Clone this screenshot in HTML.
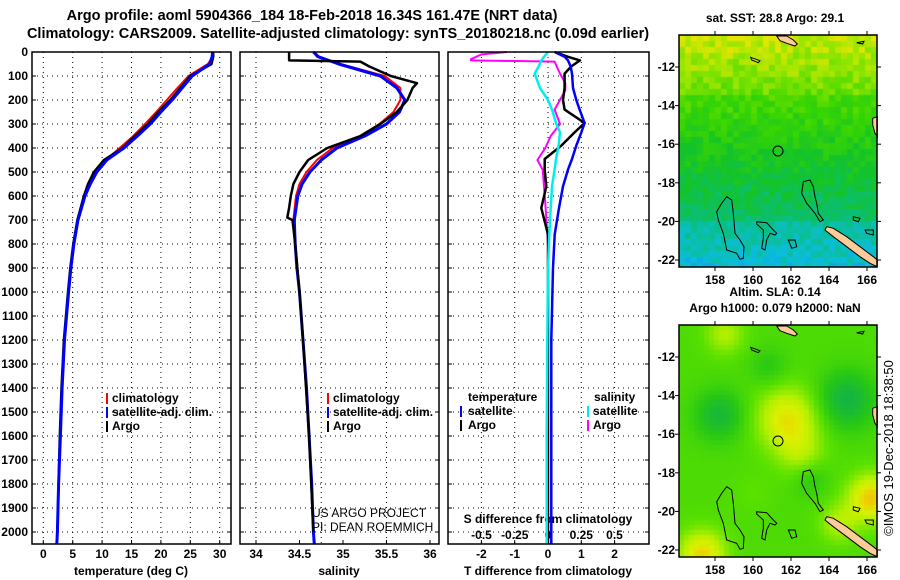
<!DOCTYPE html>
<html><head><meta charset="utf-8">
<style>
html,body{margin:0;padding:0;background:#fff;}
#wrap{position:relative;width:900px;height:580px;overflow:hidden;font-family:"Liberation Sans",sans-serif;}
canvas{position:absolute;}
svg{position:absolute;left:0;top:0;}
text{font-family:"Liberation Sans",sans-serif;}
</style></head>
<body>
<div id="wrap">
<canvas id="map1" width="198" height="232" style="left:679px;top:35px"></canvas>
<canvas id="map2" width="198" height="232" style="left:679px;top:325px"></canvas>
<svg id="fig" width="900" height="580" xmlns="http://www.w3.org/2000/svg"></svg>
</div>
<script>
// ---- data ----
const depthsT = [0,20,50,100,150,200,250,300,350,400,450,500,550,600,700,800,900,1000,1200,1400,1600,1800,2000,2050];
const tempSat  = [28.8,28.7,28.3,25.3,23.6,21.9,20.0,18.2,16.0,13.7,10.8,9.1,8.0,7.1,5.9,5.2,4.7,4.3,3.6,3.2,2.9,2.6,2.4,2.3];
const tempClim = [28.9,28.8,28.0,24.7,22.8,21.0,19.2,17.3,15.3,13.0,10.6,9.0,8.0,7.1,5.9,5.2,4.7,4.3,3.6,3.2,2.9,2.6,2.4,2.3];
const tempArgo = [28.9,28.9,28.6,25.0,23.3,21.6,19.6,17.8,15.6,13.5,10.3,8.6,7.6,6.9,5.8,5.1,4.6,4.2,3.5,3.1,2.8,2.6,2.4,2.35];
const salSat   = [34.66,34.72,34.95,35.43,35.62,35.71,35.65,35.5,35.25,34.93,34.75,34.62,34.53,34.48,34.44,34.45,34.47,34.5,34.54,34.58,34.61,34.64,34.66,34.67];
const salClim  = [34.66,34.7,34.97,35.48,35.66,35.66,35.58,35.42,35.2,34.88,34.7,34.58,34.5,34.46,34.43,34.45,34.47,34.5,34.54,34.58,34.61,34.64,34.66,34.67];
const depthsSA = [0,35,40,60,100,130,150,200,250,300,350,400,450,500,550,600,650,690,700,800,1000,1200,1600,2000];
const salArgo  = [34.38,34.38,35.2,35.3,35.55,35.85,35.8,35.74,35.62,35.43,35.2,34.82,34.6,34.5,34.43,34.4,34.38,34.36,34.42,34.45,34.5,34.54,34.61,34.66];
const depthsD = [0,20,35,60,90,150,200,240,296,335,390,446,490,560,650,760,900,1200,1600,2050];
const tDiffSat  = [0.2,0.5,0.6,0.68,0.72,0.75,0.85,0.95,1.1,1.0,0.85,0.72,0.6,0.45,0.33,0.2,0.15,0.1,0.1,0.1];
const tDiffArgo = [0.2,0.6,0.96,0.7,0.5,0.5,0.45,0.5,1.1,0.8,0.4,-0.1,-0.1,-0.05,-0.2,0.0,0.0,0.0,0.0,0.0];
const sDiffSat  = [0.0,-0.03,-0.05,-0.07,-0.1,-0.06,0.0,0.03,0.06,0.09,0.08,0.06,0.05,0.03,0.02,0.01,0.0,-0.005,-0.01,-0.01];
const depthsSD = [0,10,30,35,40,90,130,160,240,300,350,400,450,490,630,800,1200,2050];
const sDiffArgo = [-0.31,-0.5,-0.58,-0.58,0.05,0.09,0.13,0.13,0.05,0.09,0.02,-0.02,-0.08,-0.04,-0.02,0.0,0.0,0.0];
const depthTicks = [0,100,200,300,400,500,600,700,800,900,1000,1100,1200,1300,1400,1500,1600,1700,1800,1900,2000];
const tempTicks = [0,5,10,15,20,25,30];
const salTicks = [34,34.5,35,35.5,36];
const tdTicks = [-2,-1,0,1,2];
const sdTicks = [-0.5,-0.25,0,0.25,0.5];
const lonTicks = [158,160,162,164,166];
const latTicks = [-12,-14,-16,-18,-20,-22];

const NS='http://www.w3.org/2000/svg';
const svg=document.getElementById('fig');
function el(tag,attrs,parent){const e=document.createElementNS(NS,tag);for(const k in attrs)e.setAttribute(k,attrs[k]);(parent||svg).appendChild(e);return e;}
function txt(x,y,s,opts,parent){const t=el('text',Object.assign({x:x,y:y,'font-size':12,'font-weight':'bold','text-anchor':'middle',fill:'#000'},opts||{}),parent);t.textContent=s;return t;}

const TOP=52, BOT=544;
const yD=d=>TOP+d*0.24;
const xT=v=>43.3+v*5.88;
const xS=v=>256+(v-34)*87;
const xTD=v=>548+v*33.3;
const xSD=v=>548+v*133;

function panel(x0,x1,name){
  const g=el('g',{});
  
  
  return g;
}
function frame(g,x0,x1){el('rect',{x:x0,y:TOP,width:x1-x0,height:BOT-TOP,fill:'none',stroke:'#000','stroke-width':1.5},g);}
function hgrid(g,x0,x1){depthTicks.forEach(d=>{if(d>0)el('line',{x1:x0,x2:x1,y1:yD(d),y2:yD(d),stroke:'#000','stroke-width':1,'stroke-dasharray':'1,4'},g);el('line',{x1:x0,x2:x0+4,y1:yD(d),y2:yD(d),stroke:'#000'},g);el('line',{x1:x1-4,x2:x1,y1:yD(d),y2:yD(d),stroke:'#000'},g);});}
function vgrid(g,xs){xs.forEach(x=>el('line',{x1:x,x2:x,y1:TOP,y2:BOT,stroke:'#000','stroke-width':1,'stroke-dasharray':'1,4'},g));}
function line(g,xs,ds,fx,color,w,name){
  let p='';xs.forEach((v,i)=>{p+=(i?'L':'M')+fx(v).toFixed(1)+','+yD(ds[i]).toFixed(1);});
  const l=el('path',{d:p,fill:'none',stroke:color,'stroke-width':w,'stroke-linejoin':'round'},g);
  
  
}

// titles
const t1=txt(312,20,'Argo profile: aoml 5904366_184 18-Feb-2018 16.34S 161.47E (NRT data)',{'font-size':14.5});


const t2=txt(338,38,'Climatology: CARS2009. Satellite-adjusted climatology: synTS_20180218.nc (0.09d earlier)',{'font-size':14.5});



// y axis labels
const ya=el('g',{});


depthTicks.forEach(d=>txt(28,yD(d)+4,String(d),{'text-anchor':'end'},ya));

// panel 1 temperature
const p1=panel(32,231,'temperature-panel');
vgrid(p1,tempTicks.map(xT));hgrid(p1,32,231);
tempTicks.forEach(v=>{txt(xT(v),558,String(v),{},p1);el('line',{x1:xT(v),x2:xT(v),y1:BOT,y2:BOT-4,stroke:'#000'},p1);});
txt(131,575,'temperature (deg C)',{},p1);
line(p1,tempClim,depthsT,xT,'#f00',2,'temp-climatology-line');
line(p1,tempArgo,depthsT.slice(0,23),xT,'#000',2.5,'temp-argo-line');
line(p1,tempSat,depthsT,xT,'#00f',3,'temp-satellite-line');
frame(p1,32,231);
[['climatology','#f00',402],['satellite-adj. clim.','#00f',416],['Argo','#000',430]].forEach(a=>{el('rect',{x:106,y:a[2]-9,width:2,height:11,fill:a[1]},p1);txt(112,a[2],a[0],{'text-anchor':'start'},p1);});

// panel 2 salinity
const p2=panel(240,439,'salinity-panel');
vgrid(p2,[34,34.75,35.5].map(xS));hgrid(p2,240,439);
salTicks.forEach(v=>{txt(xS(v),558,String(v),{},p2);el('line',{x1:xS(v),x2:xS(v),y1:BOT,y2:BOT-4,stroke:'#000'},p2);});
txt(339,575,'salinity',{},p2);
line(p2,salClim,depthsT,xS,'#f00',2,'sal-climatology-line');
line(p2,salSat,depthsT,xS,'#00f',3,'sal-satellite-line');
line(p2,salArgo,depthsSA,xS,'#000',2.5,'sal-argo-line');
frame(p2,240,439);
[['climatology','#f00',402],['satellite-adj. clim.','#00f',416],['Argo','#000',430]].forEach(a=>{el('rect',{x:327,y:a[2]-9,width:2,height:11,fill:a[1]},p2);txt(333,a[2],a[0],{'text-anchor':'start'},p2);});
txt(312,517,'US ARGO PROJECT',{'font-weight':'normal','text-anchor':'start','font-size':12},p2);
txt(312,531,'PI: DEAN ROEMMICH',{'font-weight':'normal','text-anchor':'start','font-size':12},p2);

// panel 3 diffs
const p3=panel(448,649,'difference-panel');
vgrid(p3,tdTicks.map(xTD));hgrid(p3,448,649);
tdTicks.forEach(v=>{txt(xTD(v),558,String(v),{},p3);el('line',{x1:xTD(v),x2:xTD(v),y1:BOT,y2:BOT-4,stroke:'#000'},p3);});
sdTicks.forEach(v=>txt(xSD(v),539,String(v),{},p3));
txt(548,523,'S difference from climatology',{},p3);
txt(548,575,'T difference from climatology',{},p3);
line(p3,sDiffArgo,depthsSD,xSD,'#f0f',2,'sal-argo-diff-line');
line(p3,tDiffArgo,depthsD,xTD,'#000',2.5,'temp-argo-diff-line');
line(p3,sDiffSat,depthsD,xSD,'#0ee',2.5,'sal-satellite-diff-line');
line(p3,tDiffSat,depthsD,xTD,'#00f',2.5,'temp-satellite-diff-line');
frame(p3,448,649);
txt(468,401,'temperature',{'text-anchor':'start'},p3);
txt(594,401,'salinity',{'text-anchor':'start'},p3);
[['satellite','#00f','#0ee',415],['Argo','#000','#f0f',429]].forEach(a=>{
  el('rect',{x:460,y:a[3]-9,width:2,height:11,fill:a[1]},p3);txt(468,a[3],a[0],{'text-anchor':'start'},p3);
  el('rect',{x:587,y:a[3]-9,width:2,height:11,fill:a[2]},p3);txt(593,a[3],a[0],{'text-anchor':'start'},p3);
});

// ---- maps ----
const MX0=679,MX1=877;
const lonX=l=>715+(l-158)*19;
const latY=(l,top)=>top+32+(-12-l)*19.3;
function hsh(i,j){let h=(i*374761393+j*668265263)^0x5bd1e995;h=(h^(h>>>13))*1274126177;h=h^(h>>>16);return ((h>>>0)%1000)/1000;}
function lerpC(stops,t){t=Math.max(0,Math.min(1,t));for(let k=0;k<stops.length-1;k++){if(t<=stops[k+1][0]){const a=stops[k],b=stops[k+1];const f=(t-a[0])/(b[0]-a[0]);return [0,1,2].map(c=>Math.round(a[1][c]+(b[1][c]-a[1][c])*f));}}return stops[stops.length-1][1];}
// SST map
(function(){const c=document.getElementById('map1').getContext('2d');const s=6;
const pal=[[0,[20,110,240]],[0.2,[10,190,220]],[0.38,[10,190,120]],[0.55,[20,195,40]],[0.72,[60,215,0]],[0.88,[150,230,0]],[1,[230,230,0]]];
for(let j=0;j*s<232;j++)for(let i=0;i*s<198;i++){const yy=j*s/232;let v=0.9-yy*0.62+(hsh(i,j)-0.5)*0.14;if(yy<0.25)v+=0.05;if(yy>0.8)v-=0.08;const col=lerpC(pal,v);c.fillStyle='rgb('+col+')';c.fillRect(i*s,j*s,s,s);}})();
// SLA map
(function(){const c=document.getElementById('map2').getContext('2d');const s=5;
const pal=[[0,[10,170,90]],[0.3,[40,200,20]],[0.5,[90,225,0]],[0.7,[180,240,0]],[0.85,[220,240,0]],[1,[240,200,0]]];
const blobs=[[161.8,-15.2,1.6,0.45],[162.5,-17,1.2,0.2],[166.2,-19.3,1.2,0.55],[157.3,-22.2,1.2,0.5],[158.2,-15,1.3,-0.3],[164.9,-14.2,1.5,-0.35],[158.5,-10.8,1,0.25],[164.5,-20.6,1,0.25],[160.8,-12.5,1,-0.15],[163,-18.3,0.9,-0.15],[160,-19,1,0.05]];
for(let j=0;j*s<232;j++)for(let i=0;i*s<198;i++){const lon=158+((679+i*s+2)-715)/19;const lat=-12-((j*s+2)-32)/19.3;let v=0.45;blobs.forEach(b=>{const d2=((lon-b[0])**2+(lat-b[1])**2)/(b[2]*b[2]);v+=b[3]*Math.exp(-d2);});const col=lerpC(pal,v);c.fillStyle='rgb('+col+')';c.fillRect(i*s,j*s,s,s);}})();

function mapOverlay(top,name,titleLines){
  const g=el('g',{});
  
  
  const P=(zx,zy)=>(660+zx/3).toFixed(1)+','+(top-35+zy/3).toFixed(1);
  const reefs=[[[200,590],[215,600],[220,640],[225,700],[240,720],[252,740],[250,775],[240,778],[230,760],[200,750],[190,700],[175,660],[170,635],[185,610]],
   [[290,665],[320,668],[340,690],[350,700],[345,705],[330,700],[320,720],[315,750],[305,745],[310,715],[310,690],[290,672]],
   [[430,545],[450,540],[460,560],[465,590],[470,610],[475,640],[490,660],[480,665],[465,640],[440,610],[425,580]],
   [[385,720],[405,720],[410,740],[395,745]],[[580,650],[600,655],[595,665],[580,660]],[[615,690],[640,690],[640,705],[620,700]],[[272,172],[300,182],[295,188],[275,180]],[[590,128],[612,124],[608,132]]];
  reefs.forEach(r=>el('polygon',{points:r.map(p=>P(p[0],p[1])).join(' '),fill:'none',stroke:'#000','stroke-width':1},g));
  const lands=[[[350,108],[380,108],[400,120],[412,132],[405,138],[380,130],[360,122]],[[500,680],[520,685],[560,710],[600,740],[640,770],[652,780],[652,800],[630,790],[600,770],[560,740],[520,710],[495,690]],[[638,355],[652,350],[652,410],[645,400],[638,375]]];
  lands.forEach(r=>el('polygon',{points:r.map(p=>P(p[0],p[1])).join(' '),fill:'#fc9',stroke:'#000','stroke-width':1},g));
  el('circle',{cx:778,cy:top+116,r:5,fill:'none',stroke:'#000','stroke-width':1},g);
  el('rect',{x:MX0,y:top,width:MX1-MX0,height:232,fill:'none',stroke:'#000','stroke-width':1.5},g);
  lonTicks.forEach(l=>{el('line',{x1:lonX(l),x2:lonX(l),y1:top,y2:top-4,stroke:'#000'},g);el('line',{x1:lonX(l),x2:lonX(l),y1:top+232,y2:top+236,stroke:'#000'},g);txt(lonX(l),top+249,String(l),{},g);});
  latTicks.forEach(l=>{const y=latY(l,top);el('line',{x1:MX0,x2:MX0-4,y1:y,y2:y,stroke:'#000'},g);el('line',{x1:MX1,x2:MX1+4,y1:y,y2:y,stroke:'#000'},g);txt(MX0-4,y+4,String(l),{'text-anchor':'end'},g);});
  titleLines.forEach((s,k)=>txt(775,top-(titleLines.length-k)*16+3,s,{},g));
}
mapOverlay(35,'sst-map-overlay',['sat. SST: 28.8 Argo: 29.1']);
mapOverlay(325,'sla-map-overlay',['Altim. SLA: 0.14','Argo h1000: 0.079 h2000: NaN']);
const cr=txt(0,0,'\u00a9IMOS 19-Dec-2018 18:38:50',{'font-weight':'normal','font-size':13,transform:'translate(893,448) rotate(-90)'});


</script>
</body></html>
